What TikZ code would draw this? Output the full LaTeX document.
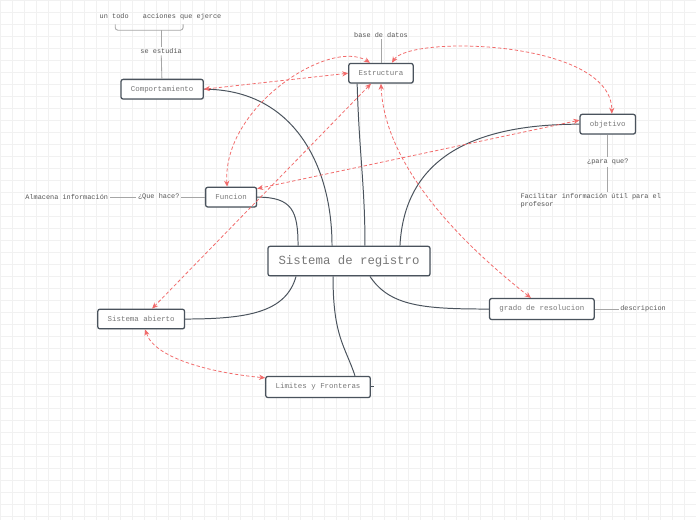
\documentclass[tikz,border=0pt]{standalone}
\usepackage{fontspec}
\setmainfont{Liberation Mono}
\usetikzlibrary{arrows.meta,positioning,calc,shadows}
\definecolor{ink}{HTML}{4A535D}
\definecolor{txt}{HTML}{787878}
\definecolor{labtxt}{HTML}{555555}
\definecolor{rel}{HTML}{F26A6A}
\definecolor{gridc}{HTML}{F1F1F1}
\tikzset{
  box/.style={draw=ink, line width=0.9pt, rounded corners=1.5pt, fill=white,
              text=txt, font=\fontsize{5.3}{6}\selectfont, inner xsep=7pt,
              inner ysep=0pt, minimum height=14pt,
              drop shadow={shadow xshift=0.5pt, shadow yshift=-0.5pt, opacity=0.2}},
  lab/.style={text=labtxt, font=\fontsize{4.9}{5.7}\selectfont, inner sep=1pt},
  link/.style={draw=ink, line width=0.7pt},
  thin/.style={draw=gray!70, line width=0.6pt},
  rel/.style={draw=rel, line width=0.55pt, dash pattern=on 2.4pt off 1.6pt,
              {Stealth[length=1.5mm, width=1.3mm]}-{Stealth[length=1.5mm, width=1.3mm]}}
}

\begin{document}
\begin{tikzpicture}[x=0.025cm, y=-0.025cm]
    % background
    \fill[white] (0,0) rectangle (696,520);
    \draw[gridc, step=0.3cm] (0,0) grid (696,520);
    \useasboundingbox (0,0) rectangle (696,520);

    \node[box, font=\fontsize{8.8}{10}\selectfont, minimum height=21pt, inner xsep=7.5pt] (reg) at (349,261) {Sistema de registro};
    \node[box] (est) at (381,73) {Estructura};
    \node[box] (comp) at (162,89) {Comportamiento};
    \node[box] (obj) at (608,124) {objetivo};
    \node[box] (fun) at (231,197) {Funcion};
    \node[box] (sab) at (141,319) {Sistema abierto};
    \node[box, minimum height=15pt] (lim) at (318,387) {Limites y Fronteras};
    \node[box, minimum height=15pt] (gra) at (542,309) {grado de resolucion};

    % labels
    \node[lab] (todo) at (114,16) {un todo};
    \node[lab] (acc) at (182,16) {acciones que ejerce};
    \node[lab] (estu) at (161,51) {se estudia};
    \node[lab] (bdd) at (381,35) {base de datos};
    \node[lab] (para) at (608,162) {¿para que?};
    \node[lab, anchor=north west, align=left] (fac) at (519,192) {Facilitar información útil para el\\profesor};
    \node[lab, left=17pt of fun] (que) {¿Que hace?};
    \node[lab, left=19pt of que] (alm) {Almacena información};
    \node[lab, right=17pt of gra] (desc) {descripcion};

    % brace over the two terms
    \coordinate (bl) at (115,24);
    \coordinate (br) at (183,24);
    \draw[thin, rounded corners=2pt] (bl) -- (bl |- 0,30) -- (br |- 0,30) -- (br);
    \draw[thin] (estu.north) -- (estu |- 0,30);
    \draw[thin] (comp) -- (estu);
    \draw[thin] (est) -- (bdd);
    \draw[thin] (obj) -- (para);
    \draw[thin] (para.south) -- (para |- fac.north);
    \draw[thin] (fun) -- (que);
    \draw[thin] (que) -- (alm);
    \draw[thin] (gra) -- (desc);

    % main branches
    \draw[link] ($(reg.north)+(-17,0)$) .. controls +(0,-80) and +(90,0) .. (comp.east);
    \draw[link] ($(reg.north)+(16,0)$) .. controls +(0,-60) and +(2,70) .. ($(est.south west)+(9,0)$);
    \draw[link] ($(reg.north)+(51,0)$) .. controls +(5,-95) and +(-95,0) .. (obj.west);
    \draw[link] ($(reg.north)+(-51,0)$) .. controls +(0,-35) and +(35,0) .. (fun.east);
    \draw[link] ($(reg.south)+(-53,0)$) .. controls +(-10,35) and +(65,0) .. (sab.east);
    \draw[link] ($(reg.south)+(-16,0)$) .. controls +(0,60) and +(-10,-30) .. ($(lim.north)+(37,0)$);
    \draw[link] ($(reg.south)+(21,0)$) .. controls +(20,30) and +(-65,0) .. (gra.west);
    \draw[link] (lim.east) -- +(3,0);

    % relations
    \draw[rel] (comp.east) -- (est.west);
    \draw[rel] ($(fun.north)+(-4,0)$) .. controls +(-5,-80) and +(-40,-25) .. ($(est.north)+(-11,0)$);
    \draw[rel] ($(est.north)+(11,0)$) .. controls +(18,-28) and +(0,-74) .. ($(obj.north)+(4,0)$);
    \draw[rel] ($(est.south)+(-10,0)$) -- ($(sab.north)+(11,0)$);
    \draw[rel] (est.south) .. controls +(4,87) and +(-61,-48) .. ($(gra.north)+(-11,0)$);
    \draw[rel] ($(obj.west)+(0,-4)$) -- ($(fun.north east)+(0,2)$);
    \draw[rel] ($(sab.south)+(4,0)$) .. controls +(10,31) and +(-45,-4) .. ($(lim.north west)+(0,2)$);
\end{tikzpicture}
\end{document}
